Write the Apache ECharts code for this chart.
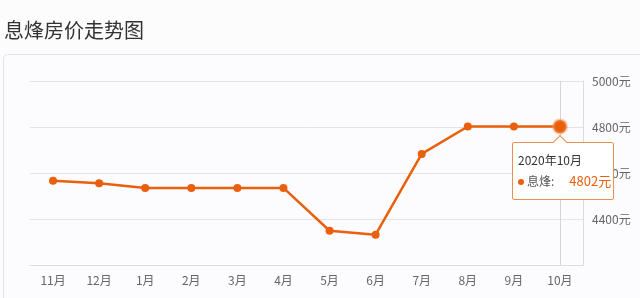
<!DOCTYPE html>
<html>
<head>
<meta charset="utf-8">
<script src="https://cdn.jsdelivr.net/npm/echarts@6/dist/echarts.min.js"></script>
<style>
  html, body { margin: 0; padding: 0; background: #fcfcfd; }
  #chart { width: 640px; height: 298px; }
</style>
</head>
<body>
<div id="chart"></div>
<script>
const months = ['11月', '12月', '1月', '2月', '3月', '4月', '5月', '6月', '7月', '8月', '9月', '10月']
const periods = ['2019年11月', '2019年12月', '2020年1月', '2020年2月', '2020年3月', '2020年4月',
  '2020年5月', '2020年6月', '2020年7月', '2020年8月', '2020年9月', '2020年10月']
const prices = [4566, 4555, 4535, 4535, 4535, 4535, 4349, 4332, 4683, 4802, 4802, 4802]
const seriesName = '息烽'

const orange = '#ea5f0c'
const chart = echarts.init(document.getElementById('chart'))

const option = {
  backgroundColor: '#fcfcfd',
  animation: false,
  textStyle: { fontFamily: '"Noto Sans CJK SC", "Noto Sans", sans-serif' },
  title: {
    text: '息烽房价走势图',
    left: -1,
    top: 15,
    textStyle: { color: '#333', fontSize: 20, fontWeight: 'normal' }
  },
  graphic: [{
    type: 'rect',
    shape: { x: 3.5, y: 54.5, width: 650, height: 260, r: 4 },
    style: { fill: '#fcfcfe', stroke: '#e3e3e6', lineWidth: 1 },
    z: -10
  }],
  tooltip: {
    trigger: 'axis',
    alwaysShowContent: true,
    transitionDuration: 0,
    backgroundColor: '#fff',
    borderColor: '#e9904f',
    borderWidth: 1,
    borderRadius: 2,
    padding: [8, 9, 7, 5],
    extraCssText: 'box-shadow:none;width:86px;overflow:visible;',
    position: () => [512, 142],
    axisPointer: { type: 'line', z: 1, lineStyle: { color: '#d6d6d9', width: 1, type: 'solid' } },
    formatter(params) {
      const p = params[0]
      return '<div style="position:absolute;left:42px;top:-6px;width:9px;height:9px;background:#fff;z-index:5;' +
        'border-left:1px solid #e9904f;border-top:1px solid #e9904f;transform:rotate(45deg);"></div>' +
        '<div style="font-size:12px;color:#333;line-height:18px;">' + periods[p.dataIndex] + '</div>' +
        '<div style="font-size:12px;color:#555;line-height:22px;margin-top:1px;white-space:nowrap;">' +
        '<span style="display:inline-block;width:6px;height:6px;border-radius:3px;background:' + orange +
        ';margin:0 3px 1px 0;"></span>' + p.seriesName + ':' +
        '<span style="color:' + orange + ';font-size:13px;margin-left:15px;">' + p.value + '元</span></div>'
    }
  },
  grid: { left: 30, right: 57, top: 81, bottom: 33 },
  xAxis: {
    type: 'category',
    data: months,
    boundaryGap: true,
    axisLine: { lineStyle: { color: '#dcdcdf' } },
    axisTick: { show: false },
    axisLabel: { color: '#666', fontSize: 12, margin: 9 }
  },
  yAxis: {
    type: 'value',
    position: 'right',
    min: 4200,
    max: 5000,
    interval: 200,
    axisLine: { show: true, lineStyle: { color: '#dcdcdf' } },
    axisTick: { show: false },
    axisLabel: { color: '#666', fontSize: 12, margin: 9, showMinLabel: false, formatter: (v) => v + '元' },
    splitLine: { lineStyle: { color: '#e4e4e7' } }
  },
  series: [{
    name: seriesName,
    type: 'line',
    z: 3,
    data: prices.map((v, i) => i === prices.length - 1
      ? { value: v, symbolSize: 12, itemStyle: { color: orange, borderColor: 'rgba(240,150,90,0.45)', borderWidth: 3 } }
      : v),
    symbol: 'circle',
    symbolSize: 8,
    itemStyle: { color: orange },
    lineStyle: { color: orange, width: 2.5 },
    emphasis: { disabled: true }
  }]
}

chart.setOption(option)
chart.dispatchAction({ type: 'showTip', seriesIndex: 0, dataIndex: prices.length - 1 })
</script>
</body>
</html>
